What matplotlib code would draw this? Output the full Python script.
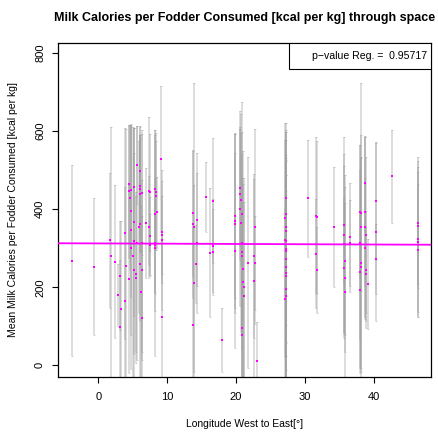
import matplotlib
matplotlib.use("Agg")
import matplotlib.pyplot as plt
from matplotlib.patches import Rectangle
import numpy as np

plt.rcParams['font.family'] = ['Liberation Sans', 'DejaVu Sans']

# Longitude of each site (degrees, West to East)
longitude = [
    -3.8, -0.6, 1.7, 1.8, 2.4, 2.8, 3.2, 3.3, 3.2, 3.9,
    4.0, 3.95, 4.4, 4.5, 4.5, 4.55, 4.75, 4.8, 4.8, 4.8,
    5.2, 5.2, 5.1, 5.2, 5.2, 5.6, 5.5, 5.6, 5.5, 6.0,
    6.0, 5.95, 6.0, 6.0, 6.1, 6.0, 6.3, 6.2, 6.3, 6.3,
    6.3, 6.9, 7.4, 7.5, 7.5, 7.4, 7.5, 8.3, 8.4, 8.4,
    8.3, 8.5, 8.2, 8.3, 8.2, 9.1, 9.2, 9.2, 9.2, 9.2,
    13.8, 13.8, 13.9, 13.9, 13.8, 14.3, 14.3, 14.2, 15.6, 16.2,
    16.6, 16.6, 16.6, 18.0, 19.8, 19.9, 19.8, 19.9, 20.6, 20.6,
    20.7, 20.6, 20.8, 20.7, 20.8, 20.9, 20.9, 21.0, 21.0, 21.1,
    21.1, 20.8, 20.9, 21.7, 22.7, 22.6, 22.7, 22.6, 23.1, 27.2,
    27.3, 27.1, 27.3, 27.2, 27.1, 27.3, 27.3, 27.3, 27.2, 27.3,
    27.3, 27.2, 27.3, 27.1, 27.3, 30.5, 31.6, 31.8, 31.6, 31.7,
    34.2, 35.6, 35.7, 35.7, 35.8, 35.7, 35.8, 35.8, 36.5, 36.6,
    38.0, 38.1, 38.1, 38.0, 38.1, 38.1, 38.0, 38.0, 38.7, 38.7,
    38.7, 38.8, 38.7, 38.9, 38.8, 39.2, 40.3, 40.3, 40.3, 42.7,
    46.4, 46.4, 46.4, 46.4, 46.4,
]

# Mean milk calories per fodder consumed (kcal per kg)
mean_kcal = [
    268, 253, 320, 281, 266, 181, 230, 145, 99, 166,
    255, 338, 221, 466, 446, 430, 396, 348, 302, 449,
    367, 319, 281, 245, 457, 313, 225, 514, 234, 451,
    363, 355, 259, 460, 440, 499, 245, 189, 122, 314,
    442, 365, 447, 443, 332, 355, 309, 453, 445, 435,
    389, 392, 314, 309, 302, 529, 342, 335, 321, 125,
    390, 363, 354, 212, 104, 373, 314, 260, 432, 289,
    422, 307, 290, 66, 382, 371, 363, 294, 455, 440,
    425, 401, 389, 365, 314, 291, 281, 248, 214, 201,
    179, 96, 78, 263, 355, 281, 263, 217, 10, 428,
    388, 377, 354, 345, 322, 318, 299, 292, 273, 251,
    237, 228, 196, 171, 177, 428, 384, 381, 286, 245,
    355, 360, 335, 311, 268, 250, 225, 187, 328, 314,
    394, 390, 354, 314, 263, 251, 240, 194, 467, 394,
    354, 335, 300, 245, 234, 208, 420, 343, 273, 484,
    366, 358, 323, 316, 295,
]

# Half-width of the spread shown around each mean (kcal per kg)
spread_kcal = [
    245, 175, 173, 330, 195, 80, 140, 225, 170, 290,
    350, 270, 240, 150, 170, 185, 220, 270, 310, 165,
    240, 290, 330, 300, 150, 300, 220, 100, 200, 160,
    250, 220, 320, 130, 150, 90, 230, 220, 260, 280,
    160, 140, 190, 150, 100, 130, 80, 150, 150, 140,
    200, 90, 290, 170, 120, 188, 130, 100, 180, 200,
    160, 190, 370, 250, 250, 170, 180, 100, 90, 165,
    160, 120, 110, 82, 210, 225, 230, 250, 150, 170,
    170, 250, 210, 280, 360, 250, 200, 300, 250, 280,
    240, 150, 140, 270, 250, 210, 120, 260, 100, 170,
    210, 200, 250, 180, 300, 260, 240, 330, 250, 280,
    250, 260, 240, 230, 270, 150, 200, 195, 140, 110,
    153, 150, 250, 230, 190, 180, 190, 300, 140, 110,
    170, 200, 370, 250, 270, 280, 260, 200, 120, 190,
    230, 200, 180, 150, 120, 115, 150, 230, 90, 120,
    168, 150, 200, 180, 170,
]

# Linear regression of mean calories on longitude
reg_intercept = 312.5
reg_slope = -0.07
p_value = 0.95717

fig = plt.figure(figsize=(4.39, 4.36), dpi=100)
ax = fig.add_axes([0.1328, 0.136, 0.8490, 0.7654])

ax.errorbar(longitude, mean_kcal, yerr=spread_kcal, fmt='none',
            ecolor=(0.62, 0.62, 0.62, 0.45), elinewidth=1.1,
            capsize=0.8, capthick=0.7, zorder=2)
ax.scatter(longitude, mean_kcal, marker='s', s=4.5, color='#ff00ff',
           linewidths=0, zorder=3)

xlim = (-5.8, 48.3)
ax.set_xlim(*xlim)
ax.set_ylim(-29, 826)
xs = np.array(xlim)
ax.plot(xs, reg_intercept + reg_slope * xs, color='#ff00ff', lw=1.3, zorder=4)

ax.set_xticks([0, 10, 20, 30, 40])
ax.set_yticks([0, 200, 400, 600, 800])
ax.tick_params(direction='out', length=4.5, width=0.8, labelsize=8)
ax.tick_params(axis='x', pad=6.5)
ax.tick_params(axis='y', pad=5)
for lbl in ax.get_yticklabels():
    lbl.set_rotation(90)
    lbl.set_va('center')
for s in ax.spines.values():
    s.set_linewidth(0.9)

ax.set_xlabel("Longitude West to East[°]", fontsize=7.5, labelpad=12)
ax.set_ylabel("Mean Milk Calories per Fodder Consumed [kcal per kg]",
              fontsize=7.5, labelpad=12)
ax.set_title("Milk Calories per Fodder Consumed [kcal per kg] through space",
             fontsize=9.0, fontweight='bold', pad=15.5)

# Legend box in the top-right corner holding the regression p-value
ax.add_patch(Rectangle((0.619, 0.922), 0.381, 0.078, transform=ax.transAxes,
                       fc='white', ec='black', lw=0.8, zorder=5))
ax.text(0.989, 0.961, "p\u2212value Reg. =  %.5f" % p_value,
        transform=ax.transAxes, ha='right', va='center', fontsize=7.6,
        zorder=6)

fig.savefig("out.png", dpi=100)
